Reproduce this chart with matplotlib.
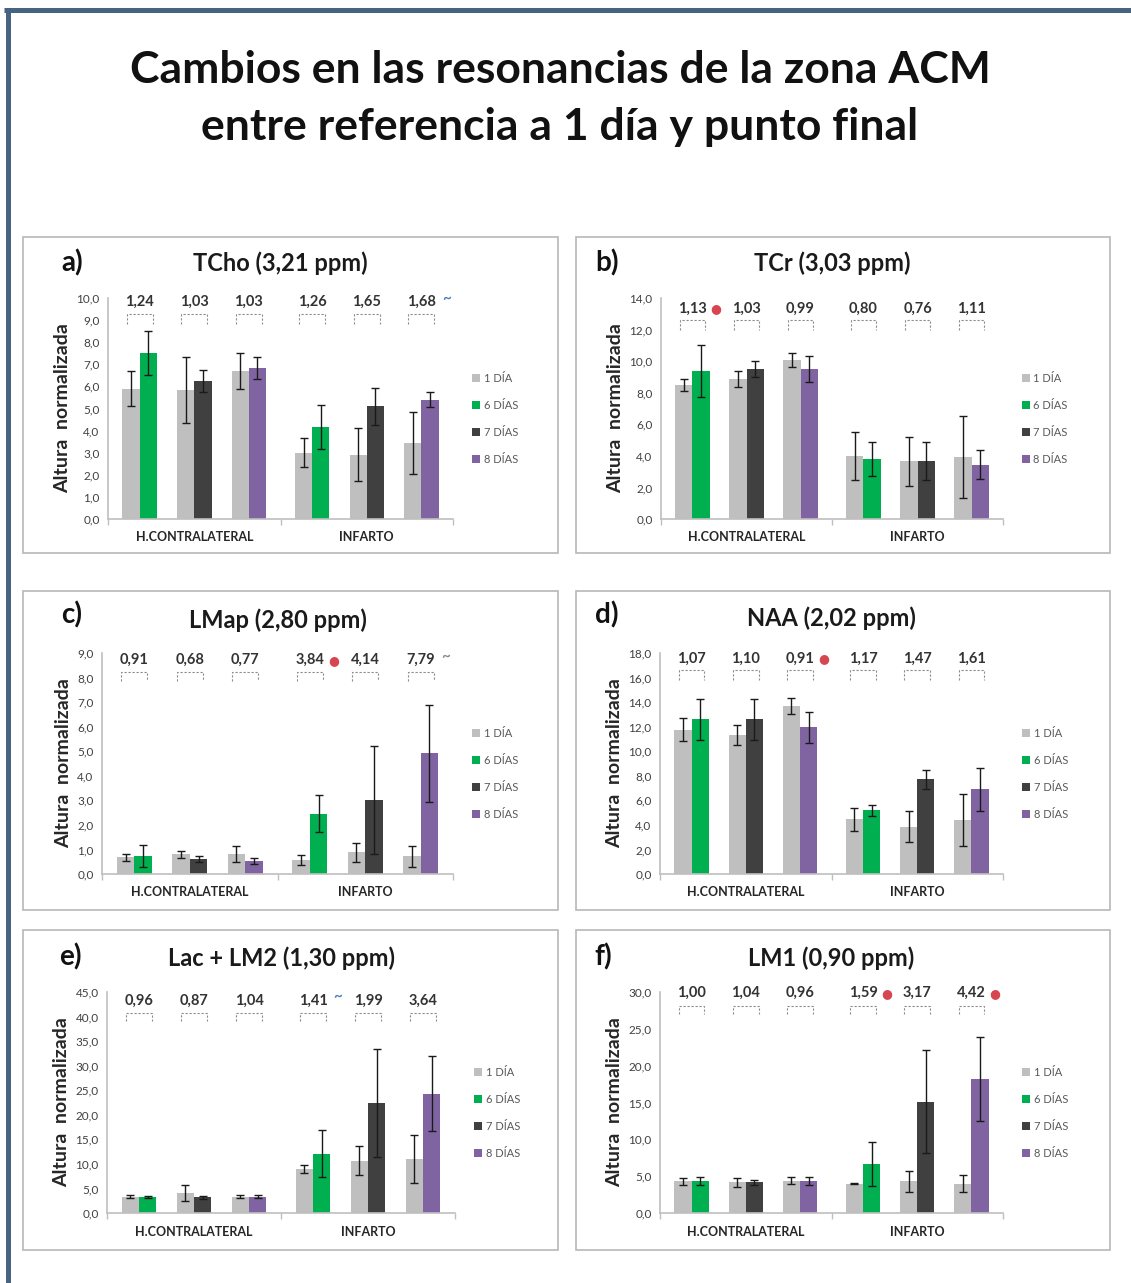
import matplotlib
matplotlib.use("Agg")
import matplotlib.pyplot as plt
from matplotlib.patches import Rectangle
from matplotlib.lines import Line2D
import numpy as np

plt.rcParams['font.family'] = ['Lato', 'DejaVu Sans']

W, H = 1131, 1283

# ---------------------------------------------------------------- data
categories = ["H.CONTRALATERAL", "INFARTO"]
series_names = ["1 DÍA", "6 DÍAS", "7 DÍAS", "8 DÍAS"]
series_colors = ["#BFBFBF", "#00B050", "#404040", "#8064A2"]
# series compared against 1 DÍA in each of the six pairs
pair_series = [1, 2, 3, 1, 2, 3]

tcho_day1 = [5.9, 5.85, 6.7, 3.0, 2.9, 3.45]
tcho_day1_err = [0.8, 1.5, 0.8, 0.65, 1.2, 1.4]
tcho_final = [7.5, 6.25, 6.85, 4.15, 5.1, 5.4]
tcho_final_err = [1.0, 0.5, 0.5, 1.0, 0.85, 0.33]
tcho_ratio = ["1,24", "1,03", "1,03", "1,26", "1,65", "1,68"]
tcho_sig = ["", "", "", "", "", "~b"]

tcr_day1 = [8.5, 8.85, 10.05, 4.0, 3.65, 3.9]
tcr_day1_err = [0.4, 0.5, 0.45, 1.5, 1.55, 2.6]
tcr_final = [9.35, 9.5, 9.5, 3.8, 3.7, 3.45]
tcr_final_err = [1.65, 0.5, 0.8, 1.05, 1.2, 0.9]
tcr_ratio = ["1,13", "1,03", "0,99", "0,80", "0,76", "1,11"]
tcr_sig = ["*", "", "", "", "", ""]

lmap_day1 = [0.68, 0.8, 0.8, 0.58, 0.88, 0.72]
lmap_day1_err = [0.14, 0.13, 0.33, 0.2, 0.4, 0.42]
lmap_final = [0.72, 0.62, 0.52, 2.45, 3.0, 4.92]
lmap_final_err = [0.45, 0.13, 0.12, 0.75, 2.2, 1.98]
lmap_ratio = ["0,91", "0,68", "0,77", "3,84", "4,14", "7,79"]
lmap_sig = ["", "", "", "*", "", "~g"]

naa_day1 = [11.75, 11.3, 13.65, 4.45, 3.85, 4.4]
naa_day1_err = [0.95, 0.8, 0.65, 0.95, 1.25, 2.15]
naa_final = [12.6, 12.6, 11.95, 5.2, 7.7, 6.9]
naa_final_err = [1.65, 1.65, 1.25, 0.45, 0.8, 1.75]
naa_ratio = ["1,07", "1,10", "0,91", "1,17", "1,47", "1,61"]
naa_sig = ["", "", "*", "", "", ""]

lac_day1 = [3.3, 4.05, 3.3, 9.0, 10.6, 11.0]
lac_day1_err = [0.3, 1.7, 0.3, 0.85, 2.95, 4.85]
lac_final = [3.25, 3.25, 3.3, 12.1, 22.4, 24.3]
lac_final_err = [0.2, 0.3, 0.3, 4.8, 11.0, 7.7]
lac_ratio = ["0,96", "0,87", "1,04", "1,41", "1,99", "3,64"]
lac_sig = ["", "", "", "~b", "", ""]

lm1_day1 = [4.3, 4.15, 4.4, 4.0, 4.3, 4.0]
lm1_day1_err = [0.5, 0.65, 0.5, 0.1, 1.4, 1.15]
lm1_final = [4.3, 4.15, 4.3, 6.65, 15.1, 18.15]
lm1_final_err = [0.55, 0.35, 0.55, 3.05, 7.0, 5.7]
lm1_ratio = ["1,00", "1,04", "0,96", "1,59", "3,17", "4,42"]
lm1_sig = ["", "", "", "*", "", "*"]

# ---------------------------------------------------------------- layout
panels = [
    dict(letter="a)", title="TCho (3,21 ppm)", ymax=10, step=1,
         day1=tcho_day1, day1_err=tcho_day1_err, final=tcho_final,
         final_err=tcho_final_err, ratio=tcho_ratio, sig=tcho_sig,
         box=(23, 237, 558, 553), axes=(108, 298, 453, 519),
         letter_xy=(72, 263), title_y=263, ann=(0.982, 0.926, 0.884)),
    dict(letter="b)", title="TCr (3,03 ppm)", ymax=14, step=2,
         day1=tcr_day1, day1_err=tcr_day1_err, final=tcr_final,
         final_err=tcr_final_err, ratio=tcr_ratio, sig=tcr_sig,
         box=(576, 237, 1110, 553), axes=(661, 298, 1003, 519),
         letter_xy=(607, 263), title_y=263, ann=(0.95, 0.90, 0.855)),
    dict(letter="c)", title="LMap (2,80 ppm)", ymax=9, step=1,
         day1=lmap_day1, day1_err=lmap_day1_err, final=lmap_final,
         final_err=lmap_final_err, ratio=lmap_ratio, sig=lmap_sig,
         box=(23, 591, 558, 910), axes=(102, 653, 453, 874),
         letter_xy=(72, 615), title_y=620, ann=(0.967, 0.914, 0.874)),
    dict(letter="d)", title="NAA (2,02 ppm)", ymax=18, step=2,
         day1=naa_day1, day1_err=naa_day1_err, final=naa_final,
         final_err=naa_final_err, ratio=naa_ratio, sig=naa_sig,
         box=(576, 591, 1110, 910), axes=(660, 653, 1003, 874),
         letter_xy=(607, 615), title_y=618, ann=(0.974, 0.922, 0.88)),
    dict(letter="e)", title="Lac + LM2 (1,30 ppm)", ymax=45, step=5,
         day1=lac_day1, day1_err=lac_day1_err, final=lac_final,
         final_err=lac_final_err, ratio=lac_ratio, sig=lac_sig,
         box=(23, 930, 558, 1250), axes=(107, 992, 455, 1213),
         letter_xy=(70, 957), title_y=958, ann=(0.962, 0.905, 0.869)),
    dict(letter="f)", title="LM1 (0,90 ppm)", ymax=30, step=5,
         day1=lm1_day1, day1_err=lm1_day1_err, final=lm1_final,
         final_err=lm1_final_err, ratio=lm1_ratio, sig=lm1_sig,
         box=(576, 930, 1110, 1250), axes=(660, 992, 1003, 1213),
         letter_xy=(603, 957), title_y=958, ann=(0.995, 0.935, 0.902)),
]


def fx(x):
    return x / W


def fy(y):
    return 1 - y / H


fig = plt.figure(figsize=(W / 100, H / 100), dpi=100)
fig.patch.set_facecolor("white")

# outer frame (top and left edges)
fig.add_artist(Line2D([fx(4), fx(W)], [fy(9.5), fy(9.5)], color="#46637F",
                      lw=3.6, solid_capstyle="butt"))
fig.add_artist(Line2D([fx(7.5), fx(7.5)], [fy(8), fy(H)], color="#46637F",
                      lw=3.6, solid_capstyle="butt"))

fig.text(fx(560), fy(70), "Cambios en las resonancias de la zona ACM",
         ha="center", va="center", fontsize=32, fontweight="bold", color="#111111")
fig.text(fx(560), fy(127), "entre referencia a 1 día y punto final",
         ha="center", va="center", fontsize=32, fontweight="bold", color="#111111")

offsets = np.array([-0.316, 0.0, 0.316])
centers = np.concatenate([0 + offsets, 1 + offsets])
bw = 0.1
bracket_half = 0.075
err_kw = dict(ecolor="#1a1a1a", elinewidth=1.0, capsize=2.6, capthick=1.0)
axis_grey = "#BFBFBF"
text_grey = "#404040"

for p in panels:
    x0, y0, x1, y1 = p["box"]
    fig.add_artist(Rectangle((fx(x0), fy(y1)), (x1 - x0) / W, (y1 - y0) / H,
                             transform=fig.transFigure, facecolor="white",
                             edgecolor="#B8B8B8", lw=1.2, zorder=0))
    l, t, r, b = p["axes"]
    ax = fig.add_axes([fx(l), fy(b), (r - l) / W, (b - t) / H])
    ax.set_facecolor("none")

    ax.bar(centers - bw / 2, p["day1"], bw, yerr=p["day1_err"],
           color=series_colors[0], error_kw=err_kw, zorder=2)
    ax.bar(centers + bw / 2, p["final"], bw, yerr=p["final_err"],
           color=[series_colors[s] for s in pair_series], error_kw=err_kw, zorder=2)

    ax.set_xlim(-0.5, 1.5)
    ax.set_ylim(0, p["ymax"])
    yt = np.arange(0, p["ymax"] + p["step"] / 2, p["step"])
    ax.set_yticks(yt)
    ax.set_yticklabels([f"{v:.1f}".replace(".", ",") for v in yt],
                       fontsize=8.5, color=text_grey)
    ax.tick_params(axis="y", length=0, pad=6)
    ax.set_xticks([-0.5, 0.5, 1.5])
    ax.set_xticklabels([])
    ax.tick_params(axis="x", which="major", length=4, color=axis_grey, width=1)
    ax.set_xticks([0, 1], minor=True)
    ax.set_xticklabels(categories, minor=True, fontsize=9,
                       fontweight="bold", color="#262626")
    ax.tick_params(axis="x", which="minor", length=0, pad=9)
    for side in ("top", "right"):
        ax.spines[side].set_visible(False)
    for side in ("left", "bottom"):
        ax.spines[side].set_color(axis_grey)
        ax.spines[side].set_linewidth(1.2)

    ax.set_ylabel("Altura  normalizada", fontsize=14, fontweight="bold",
                  color="#262626", labelpad=4)

    # ratio labels with dashed brackets joining each pair
    ly, by, ey = p["ann"]
    for i, c in enumerate(centers):
        ax.annotate(p["ratio"][i], xy=(c, ly), xycoords=("data", "axes fraction"),
                    ha="center", va="center", fontsize=10.5, fontweight="bold",
                    color="#333333", annotation_clip=False)
        xa, xb = c - bracket_half, c + bracket_half
        ax.plot([xa, xa, xb, xb], [ey, by, by, ey], color="#8C8C8C", lw=0.8,
                ls=(0, (2, 1.6)), transform=ax.get_xaxis_transform(),
                clip_on=False)
        sig = p["sig"][i]
        if sig == "*":
            ax.annotate("\u25CF", xy=(c, ly), xycoords=("data", "axes fraction"),
                        xytext=(17, 0), textcoords="offset points", ha="center",
                        va="center", fontsize=9, color="#D64550",
                        family=["DejaVu Sans"], annotation_clip=False)
        elif sig.startswith("~"):
            col = "#4F81BD" if sig == "~b" else "#8C8C8C"
            ax.annotate("~", xy=(c, ly), xycoords=("data", "axes fraction"),
                        xytext=(18, 2), textcoords="offset points", ha="center",
                        va="center", fontsize=11, fontweight="bold", color=col,
                        annotation_clip=False)

    handles = [Rectangle((0, 0), 1, 1, facecolor=c, edgecolor="none")
               for c in series_colors]
    ax.legend(handles, series_names, loc="center left",
              bbox_to_anchor=(1.055, 0.452), frameon=False, fontsize=8,
              labelcolor="#595959", handlelength=0.7, handleheight=0.7,
              handletextpad=0.35, labelspacing=1.45, borderpad=0,
              borderaxespad=0)

    lx, lyy = p["letter_xy"]
    fig.text(fx(lx), fy(lyy), p["letter"], ha="center", va="center",
             fontsize=20, fontweight="bold", color="#111111")
    fig.text(fx((l + r) / 2), fy(p["title_y"]), p["title"], ha="center",
             va="center", fontsize=17, fontweight="bold", color="#1a1a1a")

fig.savefig("out.png", dpi=100, facecolor="white")
